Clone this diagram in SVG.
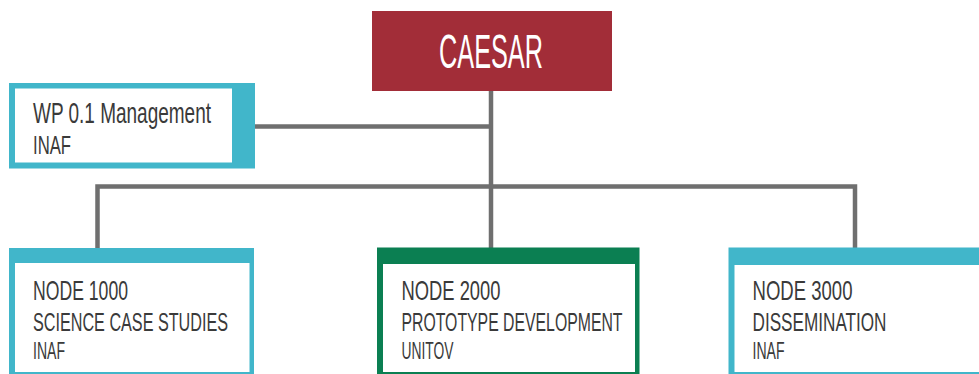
<svg xmlns="http://www.w3.org/2000/svg" width="979" height="374" viewBox="0 0 979 374">
<style>
.t{font-family:"Liberation Sans",Arial,sans-serif;fill:#3a3a3a;}
.big{font-size:27.5px;}
.mid{font-size:26.5px;}
.sm{font-size:24px;}
.cyan{fill:#41b6ca;}
.green{fill:#0b7f52;}
.white{fill:#ffffff;}
.conn{stroke:#6f6f6f;stroke-width:4.5;fill:none;}
</style>
<rect width="979" height="374" fill="#ffffff"/>
<g id="connectors">
<path class="conn" d="M491 91 V248"/>
<path class="conn" d="M255 126.5 H491"/>
<path class="conn" d="M97.5 248 V186.5 H855 V248"/>
</g>
<g id="caesar">
<rect x="372" y="11" width="240" height="80" fill="#a22d38"/>
<text x="491" y="68" text-anchor="middle" font-family="'Liberation Sans',Arial,sans-serif" font-size="49" fill="#ffffff" textLength="104" lengthAdjust="spacingAndGlyphs">CAESAR</text>
</g>
<g id="wp01">
<rect class="cyan" x="9" y="83" width="246" height="85.5"/>
<rect class="white" x="15" y="88.5" width="217" height="74"/>
<text class="t" x="33" y="123" font-size="29.5" textLength="178" lengthAdjust="spacingAndGlyphs">WP 0.1 Management</text>
<text class="t" x="33" y="154" font-size="26.5" textLength="38" lengthAdjust="spacingAndGlyphs">INAF</text>
</g>
<g id="node1000">
<rect class="cyan" x="9" y="248" width="245" height="126"/>
<rect class="white" x="15" y="263" width="234.5" height="109"/>
<text class="t big" x="33" y="300" textLength="95" lengthAdjust="spacingAndGlyphs">NODE 1000</text>
<text class="t mid" x="33" y="331" textLength="195" lengthAdjust="spacingAndGlyphs">SCIENCE CASE STUDIES</text>
<text class="t sm" x="33" y="359" textLength="32" lengthAdjust="spacingAndGlyphs">INAF</text>
</g>
<g id="node2000">
<rect class="green" x="377" y="247.5" width="262.5" height="126.5"/>
<rect class="white" x="383" y="264" width="252" height="108"/>
<text class="t big" x="401.5" y="300" textLength="99" lengthAdjust="spacingAndGlyphs">NODE 2000</text>
<text class="t mid" x="401.5" y="331" textLength="221" lengthAdjust="spacingAndGlyphs">PROTOTYPE DEVELOPMENT</text>
<text class="t sm" x="401.5" y="359" textLength="52" lengthAdjust="spacingAndGlyphs">UNITOV</text>
</g>
<g id="node3000">
<rect class="cyan" x="728.5" y="247.5" width="251" height="126.5"/>
<rect class="white" x="734.5" y="265" width="245" height="107"/>
<text class="t big" x="752.5" y="300" textLength="100" lengthAdjust="spacingAndGlyphs">NODE 3000</text>
<text class="t mid" x="752.5" y="331" textLength="134" lengthAdjust="spacingAndGlyphs">DISSEMINATION</text>
<text class="t sm" x="752.5" y="359" textLength="32" lengthAdjust="spacingAndGlyphs">INAF</text>
</g>
</svg>
